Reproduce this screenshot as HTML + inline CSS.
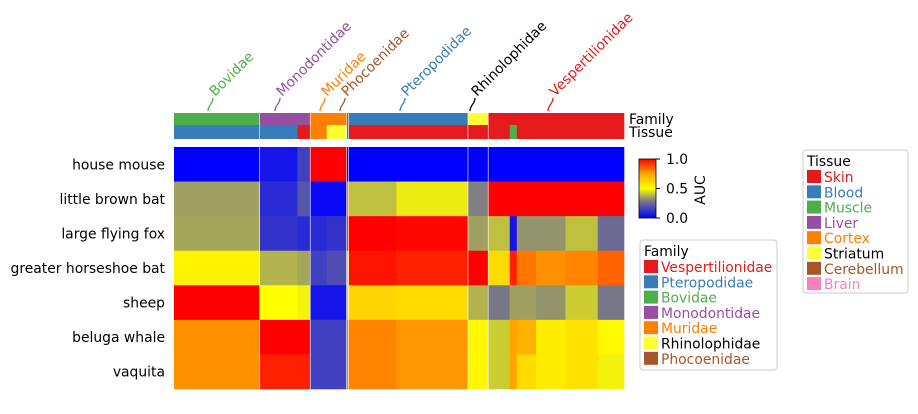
<!DOCTYPE html>
<html><head><meta charset="utf-8"><style>
body{margin:0;background:#fff;}
svg{font-family:"DejaVu Sans","Liberation Sans",sans-serif;}
</style></head><body>
<svg id="c" width="918" height="409"></svg>
<script>
const rows=["house mouse","little brown bat","large flying fox","greater horseshoe bat","sheep","beluga whale","vaquita"];
const families=["Bovidae","Monodontidae","Muridae","Phocoenidae","Pteropodidae","Rhinolophidae","Vespertilionidae"];
const familyColors={Vespertilionidae:"#e41a1c",Pteropodidae:"#377eb8",Bovidae:"#4daf4a",Monodontidae:"#984ea3",Muridae:"#ff7f00",Rhinolophidae:"#ffff33",Phocoenidae:"#a65628"};
const tissueNames=["Skin","Blood","Muscle","Liver","Cortex","Striatum","Cerebellum","Brain"];
const tissueColors=["#e41a1c","#377eb8","#4daf4a","#984ea3","#ff7f00","#ffff33","#a65628","#f781bf"];
// blocks: family, sample count, tissue, AUC per row
const blockFamily=["Bovidae","Monodontidae","Monodontidae","Muridae","Muridae","Phocoenidae","Pteropodidae","Pteropodidae","Rhinolophidae","Vespertilionidae","Vespertilionidae","Vespertilionidae","Vespertilionidae","Vespertilionidae","Vespertilionidae"];
const blockSize=[85,37,13,16,20,2,47,71,20,21,7,19,29,32,26];
const blockTissue=["Blood","Blood","Skin","Cortex","Striatum","Blood","Skin","Skin","Skin","Skin","Muscle","Skin","Skin","Skin","Skin"];
const blockAUC=[
[0.0,0.35,0.36,0.53,1.00,0.78,0.78],
[0.05,0.10,0.12,0.38,0.50,1.00,0.95],
[0.15,0.20,0.10,0.36,0.48,1.00,0.95],
[1.00,0.02,0.10,0.15,0.05,0.15,0.15],
[1.00,0.02,0.12,0.18,0.05,0.15,0.15],
[0.02,0.80,0.90,0.60,0.60,0.80,0.80],
[0.00,0.40,1.00,0.97,0.62,0.80,0.80],
[0.00,0.47,0.99,0.95,0.60,0.77,0.77],
[0.00,0.30,0.35,1.00,0.38,0.52,0.52],
[0.00,1.00,0.40,0.60,0.28,0.42,0.42],
[0.00,1.00,0.05,0.95,0.35,0.75,0.75],
[0.00,1.00,0.33,0.82,0.35,0.72,0.60],
[0.00,1.00,0.33,0.78,0.33,0.55,0.55],
[0.00,1.00,0.40,0.80,0.42,0.58,0.58],
[0.00,1.00,0.25,0.85,0.28,0.52,0.48]];
const labelX=[213,280,325,345,405,475,553];

const NS="http://www.w3.org/2000/svg";
const svg=document.getElementById('c');
function mk(t,a,p){const e=document.createElementNS(NS,t);for(const k in a)e.setAttribute(k,a[k]);(p||svg).appendChild(e);return e;}
const FS=13.9;
const X0=174,X1=624,Y0=147,Y1=389;
const total=blockSize.reduce((a,b)=>a+b,0);
const xs=v=>X0+v/total*(X1-X0);
const rh=(Y1-Y0)/rows.length;
const ys=i=>Y0+i*rh;
const stops=[[0,[0,0,255]],[0.3,[128,128,128]],[0.5,[255,255,0]],[0.75,[255,165,0]],[1,[255,0,0]]];
function cmap(v){for(let i=1;i<stops.length;i++){if(v<=stops[i][0]){const[a,ca]=stops[i-1],[b,cb]=stops[i];const t=(v-a)/(b-a);return`rgb(${ca.map((c,k)=>Math.round(c+(cb[k]-c)*t)).join(',')})`;}}return'rgb(255,0,0)';}
let acc=0;
blockSize.forEach((n,b)=>{
  const x=xs(acc),w=xs(acc+n)-x;
  let r=mk('rect',{x,y:113,width:w+0.3,height:12,fill:familyColors[blockFamily[b]]});
  
  
  r=mk('rect',{x,y:125,width:w+0.3,height:14,fill:tissueColors[tissueNames.indexOf(blockTissue[b])]});
  
  
  blockAUC[b].forEach((v,i)=>{
    const c=mk('rect',{x,y:ys(i),width:w+0.3,height:rh+0.3,fill:cmap(v)});
    
    
  });
  acc+=n;
  if(b<blockSize.length-1&&blockFamily[b+1]!==blockFamily[b]){
    mk('line',{x1:xs(acc),x2:xs(acc),y1:110,y2:Y1,stroke:'#fff','stroke-width':1.2});
  }
});
mk('rect',{x:X0,y:139,width:X1-X0,height:8,fill:'#fff'});
rows.forEach((r,i)=>{const t=mk('text',{x:165,y:ys(i)+rh/2+5,'text-anchor':'end','font-size':FS});t.textContent=r;
});
let t=mk('text',{x:629,y:124,'font-size':FS});t.textContent='Family';
t=mk('text',{x:629,y:137,'font-size':FS});t.textContent='Tissue';
families.forEach((f,i)=>{
  const x=labelX[i],col=f==='Rhinolophidae'?'#000':familyColors[f];
  mk('path',{d:`M${x-5},${111} C${x-5},${105} ${x},${104} ${x},${98}`,stroke:col,fill:'none','stroke-width':1.3});
  const tt=mk('text',{x:x+2,y:97,'font-size':FS,fill:col,transform:`rotate(-45 ${x+2} 97)`});tt.textContent=f;
  
});
// colorbar
const g=mk('defs',{});const lg=mk('linearGradient',{id:'cg',x1:0,y1:1,x2:0,y2:0},g);
stops.forEach(s=>mk('stop',{offset:s[0],'stop-color':cmap(s[0])},lg));
const cb=mk('rect',{x:639,y:159,width:17,height:59,fill:'url(#cg)',stroke:'#000','stroke-width':0.8});

[[0,'0.0'],[0.5,'0.5'],[1,'1.0']].forEach(([v,l])=>{const y=218-v*59;mk('line',{x1:656,x2:660,y1:y,y2:y,stroke:'#000'});
const tx=mk('text',{x:666,y:y+5,'font-size':FS});tx.textContent=l;});
t=mk('text',{x:705,y:190,'font-size':FS,transform:'rotate(-90 705 190)','text-anchor':'middle'});t.textContent='AUC';
function legend(name,x,y,w,h,title,items,cols){
  const gg=mk('g',{});
  mk('rect',{x,y,width:w,height:h,rx:3,fill:'#fff',stroke:'#ccc'},gg);
  const tt=mk('text',{x:x+4,y:y+16,'font-size':FS},gg);tt.textContent=title;
  items.forEach((it,i)=>{const yy=y+20+i*15.3;mk('rect',{x:x+4,y:yy,width:14,height:13,fill:cols[i]},gg);
  const e=mk('text',{x:x+21,y:yy+12,'font-size':FS,fill:cols[i]==='#ffff33'?'#000':cols[i]},gg);e.textContent=it;
  });
}
const famOrder=["Vespertilionidae","Pteropodidae","Bovidae","Monodontidae","Muridae","Rhinolophidae","Phocoenidae"];
legend('family-legend',640,240,137,130,'Family',famOrder,famOrder.map(f=>familyColors[f]));
legend('tissue-legend',803,150,105,143,'Tissue',tissueNames,tissueColors);
</script>
</body></html>
